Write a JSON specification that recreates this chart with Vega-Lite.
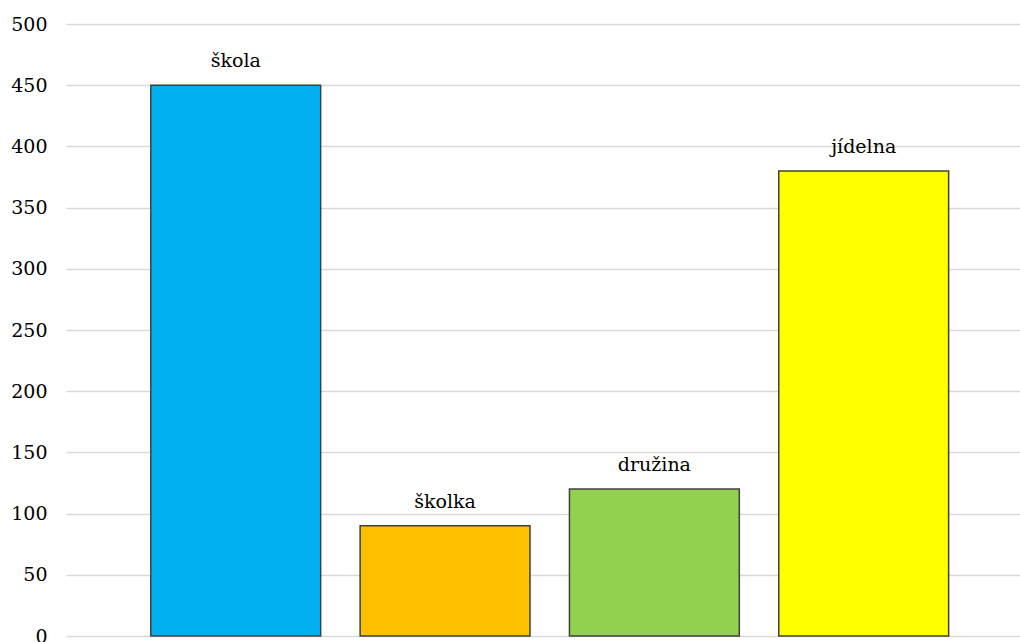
{
  "$schema": "https://vega.github.io/schema/vega-lite/v6.json",
  "autosize": "none",
  "width": 954,
  "height": 612,
  "padding": {"left": 66, "top": 24, "right": 0, "bottom": 6},
  "background": "white",
  "config": {"view": {"stroke": null}, "font": "DejaVu Serif"},
  "data": {"values": [
    {"kategorie": "škola", "hodnota": 450, "barva": "#00B0F0"},
    {"kategorie": "školka", "hodnota": 90, "barva": "#FFC000"},
    {"kategorie": "družina", "hodnota": 120, "barva": "#92D050"},
    {"kategorie": "jídelna", "hodnota": 380, "barva": "#FFFF00"}
  ]},
  "encoding": {
    "x": {"field": "kategorie", "type": "nominal", "sort": null,
      "scale": {"paddingInner": 0.1885, "paddingOuter": 0.373, "align": 0.543},
      "axis": null},
    "y": {"field": "hodnota", "type": "quantitative",
      "scale": {"domain": [0, 500], "nice": false},
      "axis": {"values": [0,50,100,150,200,250,300,350,400,450,500], "title": null, "domain": false, "ticks": false,
        "labelFont": "DejaVu Serif", "labelFontSize": 19, "labelColor": "#000000", "labelPadding": 19,
        "gridColor": "#d9d9d9", "gridWidth": 1.5}}
  },
  "layer": [
    {"mark": {"type": "bar", "stroke": "#404040", "strokeWidth": 1.5},
     "encoding": {"color": {"field": "barva", "type": "nominal", "scale": null}}},
    {"mark": {"type": "text", "baseline": "alphabetic", "dy": -18, "font": "DejaVu Serif", "fontSize": 19, "color": "#000000"},
     "encoding": {"text": {"field": "kategorie"}}}
  ]
}
